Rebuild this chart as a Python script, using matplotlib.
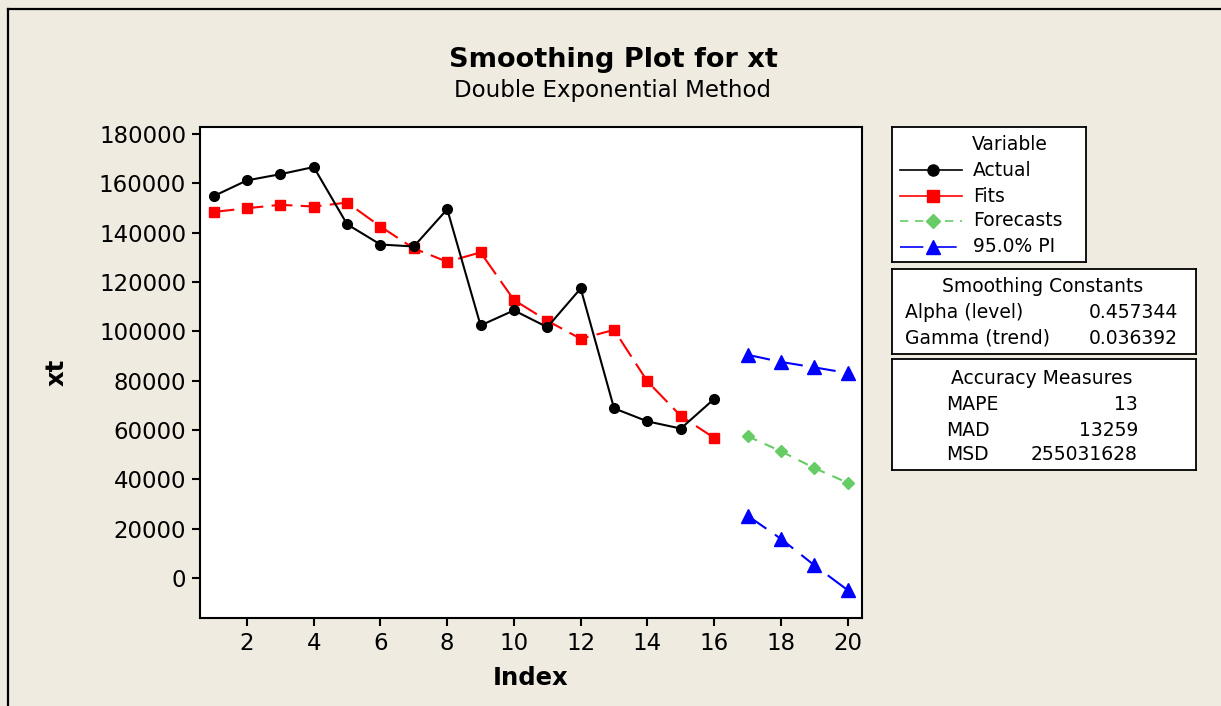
import matplotlib
matplotlib.use("Agg")
import matplotlib.pyplot as plt
from matplotlib.lines import Line2D

# ---- data ----
idx_actual = list(range(1, 17))
actual = [154800, 161200, 163700, 166600, 143400, 135200, 134400, 149500,
          102400, 108500, 101700, 117400, 68800, 63500, 60600, 72600]
fits = [148400, 149900, 151300, 150600, 152200, 142500, 133600, 128200,
        132000, 112700, 104300, 97000, 100600, 79700, 65700, 56800]
idx_fc = [17, 18, 19, 20]
forecasts = [57500, 51400, 44600, 38600]
pi_upper = [90500, 87600, 85400, 83100]
pi_lower = [25300, 15900, 5200, -4900]

xticks = [2, 4, 6, 8, 10, 12, 14, 16, 18, 20]
yticks = [0, 20000, 40000, 60000, 80000, 100000, 120000, 140000, 160000, 180000]

title = "Smoothing Plot for xt"
subtitle = "Double Exponential Method"
legend_labels = ["Actual", "Fits", "Forecasts", "95.0% PI"]
smooth_names = ["Alpha (level)", "Gamma (trend)"]
smooth_vals = ["0.457344", "0.036392"]
acc_names = ["MAPE", "MAD", "MSD"]
acc_vals = ["13", "13259", "255031628"]

plt.rcParams['font.family'] = ['DejaVu Sans']
BG = "#EFEBE1"
W, H = 1221, 706
fig = plt.figure(figsize=(W / 100, H / 100), dpi=100, facecolor=BG)

def fx(px):
    return px / W

def fy(py):
    return 1 - py / H

# figure border (left and top visible)
fig.add_artist(Line2D([fx(8), fx(8)], [fy(9), fy(720)], color="black", lw=1.6))
fig.add_artist(Line2D([fx(8), fx(1240)], [fy(9), fy(9)], color="black", lw=1.6))

ax = fig.add_axes([fx(200), fy(618), fx(862) - fx(200), fy(127) - fy(618)])
ax.set_facecolor("white")
for s in ax.spines.values():
    s.set_linewidth(1.5)

lw = 1.5
ax.plot(idx_actual, actual, color="black", lw=lw, marker="o", ms=7,
        markerfacecolor="black", markeredgecolor="black", zorder=4)
ax.plot(idx_actual, fits, color="red", lw=lw, marker="s", ms=7.5,
        dashes=(10, 4), zorder=3)
ax.plot(idx_fc, forecasts, color="#66CC66", lw=lw, marker="D", ms=6.5,
        dashes=(5, 4), zorder=3)
ax.plot(idx_fc, pi_upper, color="blue", lw=lw, marker="^", ms=10,
        dashes=(11, 5), zorder=3)
ax.plot(idx_fc, pi_lower, color="blue", lw=lw, marker="^", ms=10,
        dashes=(11, 5), zorder=3)

ax.set_xlim(0.592, 20.43)
ax.set_ylim(-16200, 182836)
ax.set_xticks(xticks)
ax.set_yticks(yticks)
ax.set_yticklabels([str(v) for v in yticks])
ax.tick_params(labelsize=16.5, length=6, width=1.5, direction="out", pad=4)
ax.set_xlabel("Index", fontsize=17.5, fontweight="bold", labelpad=8)
ax.set_ylabel("xt", fontsize=17.5, fontweight="bold", labelpad=22)

fig.text(fx(613), fy(60), title, fontsize=19.5, fontweight="bold",
         ha="center", va="center")
fig.text(fx(613), fy(91), subtitle, fontsize=16.5, ha="center", va="center")

def box(x0, y0, x1, y1):
    b = fig.add_axes([fx(x0), fy(y1), fx(x1) - fx(x0), fy(y0) - fy(y1)])
    b.set_facecolor("white")
    b.set_xlim(x0, x1)
    b.set_ylim(y1, y0)
    b.set_xticks([])
    b.set_yticks([])
    for s in b.spines.values():
        s.set_linewidth(1.3)
    return b

TS = 13.5
# legend box
b1 = box(892, 127, 1086, 262)
b1.text(1010, 144, "Variable", fontsize=TS, ha="center", va="center")
rows_y = [170, 196, 221, 247]
styles = [
    dict(color="black", marker="o", ms=8, ls="-"),
    dict(color="red", marker="s", ms=8, ls="-"),
    dict(color="#66CC66", marker="D", ms=7, dashes=(5, 4)),
    dict(color="blue", marker="^", ms=10, dashes=(14, 6)),
]
for yy, lab, st in zip(rows_y, legend_labels, styles):
    b1.plot([900, 962], [yy, yy], lw=1.2, **{k: v for k, v in st.items() if k not in ("marker", "ms")})
    b1.plot([933], [yy], color=st["color"], marker=st["marker"], ms=st["ms"], ls="none")
    b1.text(973, yy, lab, fontsize=TS, ha="left", va="center")

# smoothing constants
b2 = box(892, 269, 1196, 354)
b2.text(1043, 286, "Smoothing Constants", fontsize=TS, ha="center", va="center")
for yy, n, v in zip([312, 338], smooth_names, smooth_vals):
    b2.text(905, yy, n, fontsize=TS, ha="left", va="center")
    b2.text(1178, yy, v, fontsize=TS, ha="right", va="center")

# accuracy measures
b3 = box(892, 359, 1196, 470)
b3.text(1042, 378, "Accuracy Measures", fontsize=TS, ha="center", va="center")
for yy, n, v in zip([404, 430, 455], acc_names, acc_vals):
    b3.text(946, yy, n, fontsize=TS, ha="left", va="center")
    b3.text(1138, yy, v, fontsize=TS, ha="right", va="center")

fig.savefig("out.png", dpi=100, facecolor=BG)
